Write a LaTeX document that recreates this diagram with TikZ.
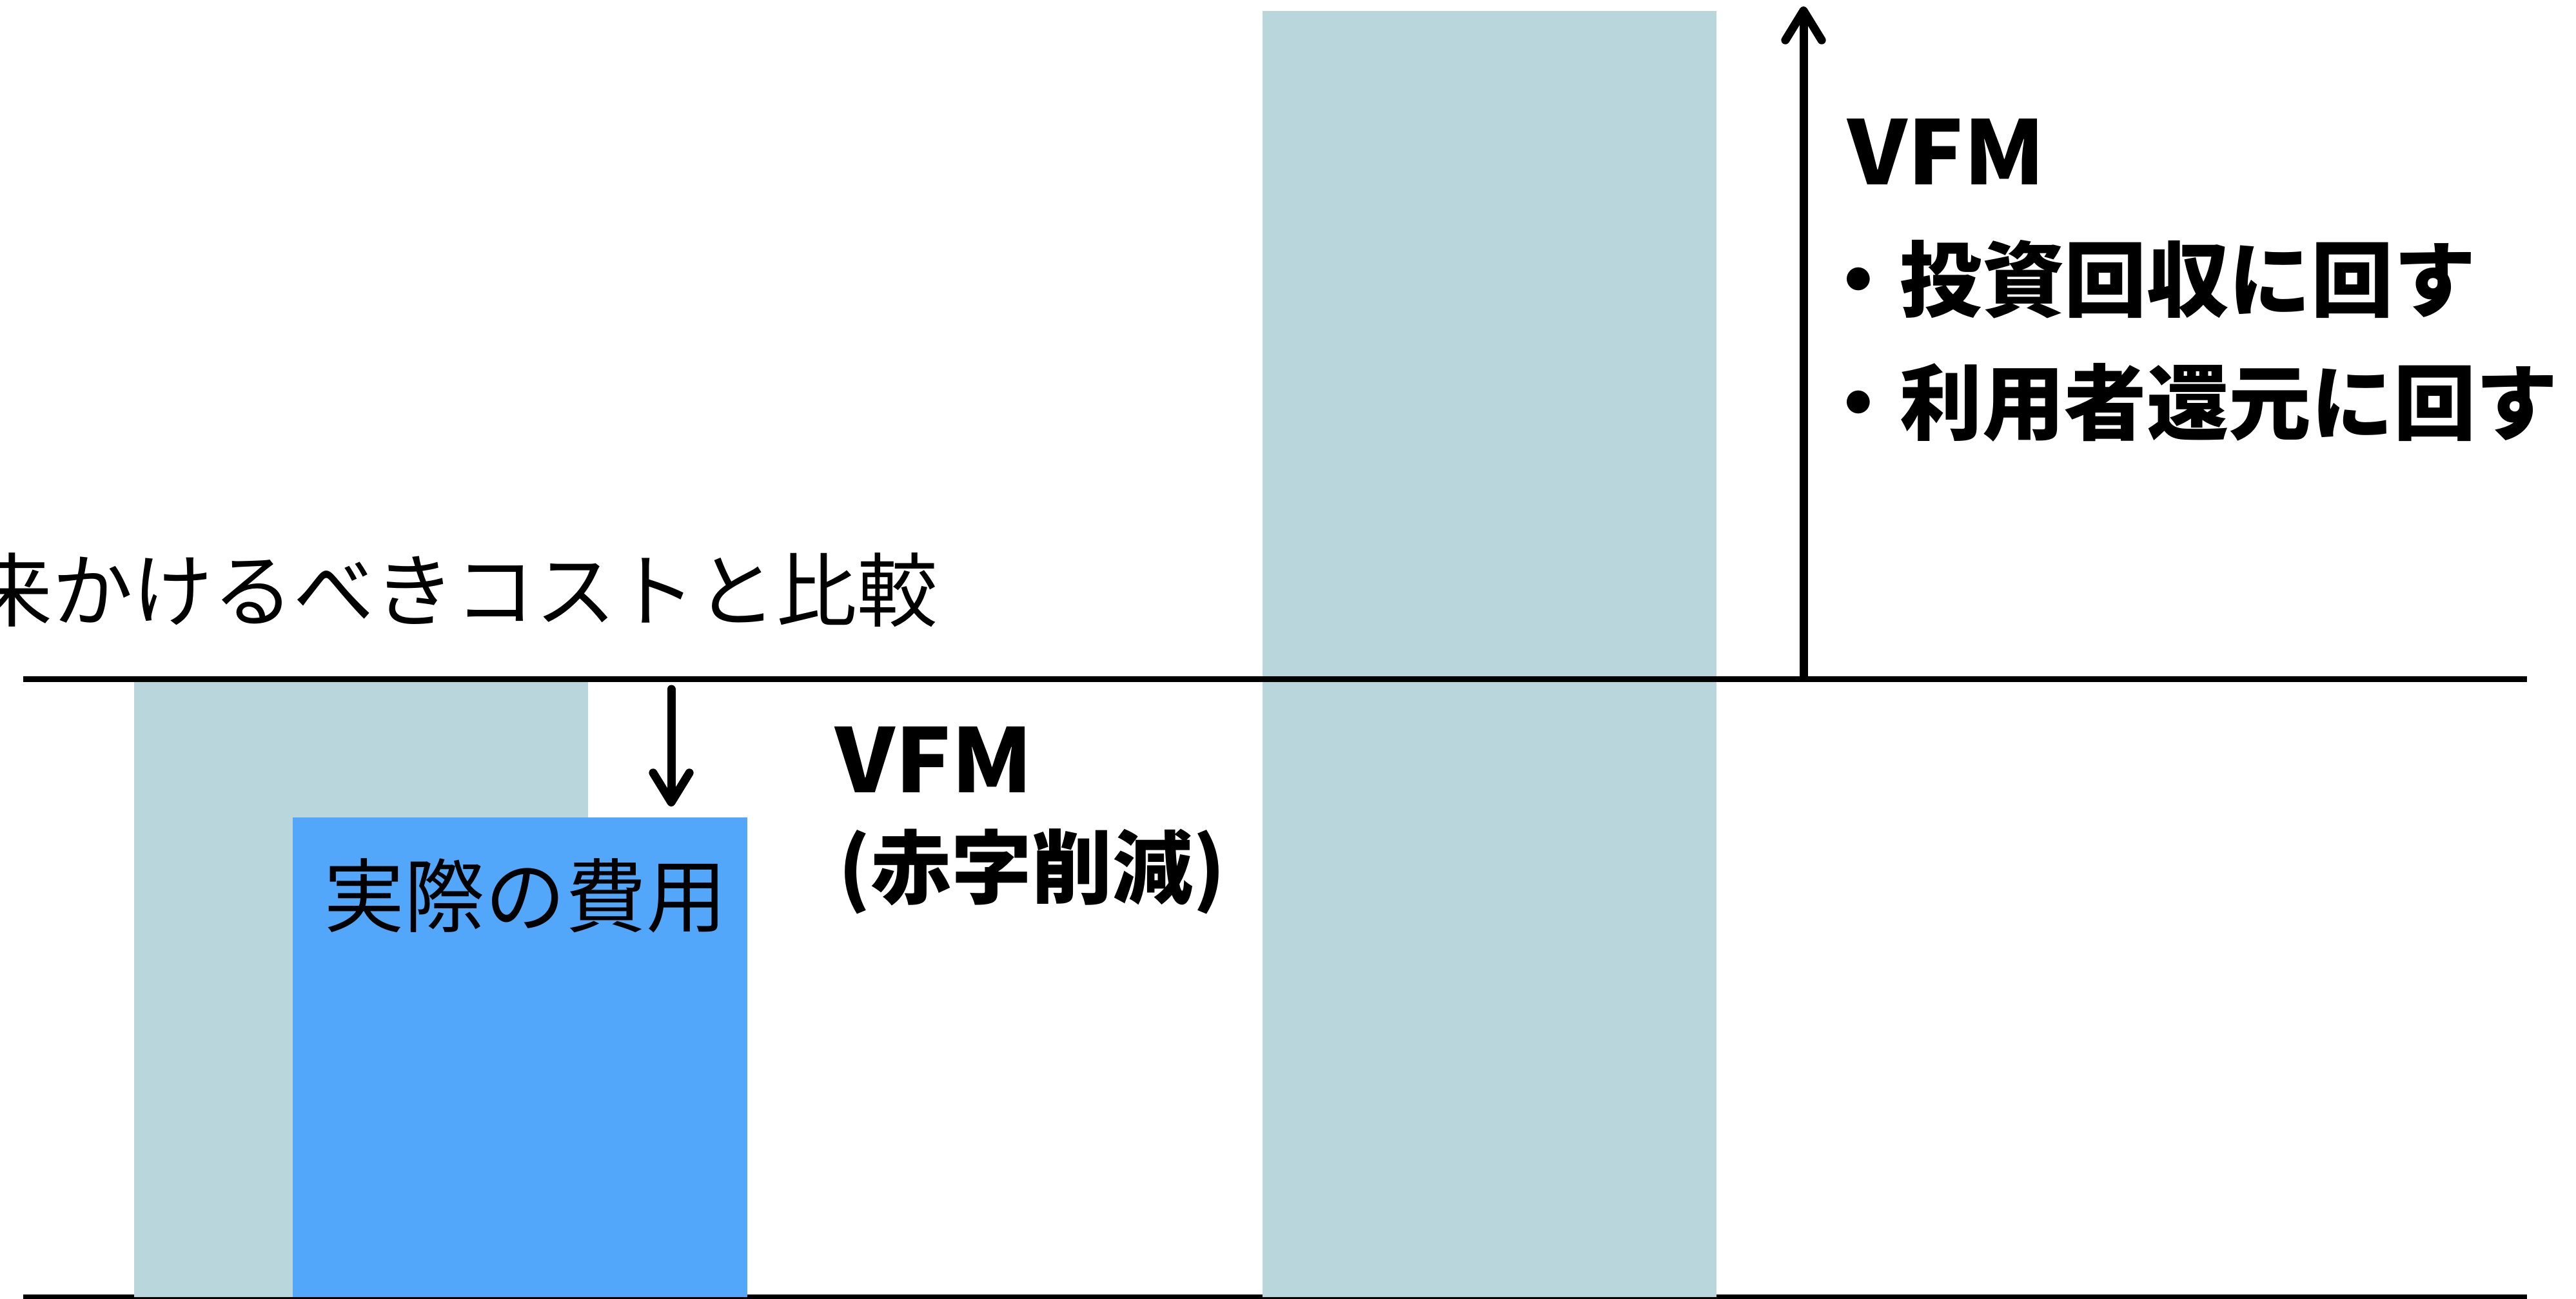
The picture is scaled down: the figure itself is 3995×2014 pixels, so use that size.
\documentclass[tikz,border=0pt]{standalone}
\usepackage{fontspec}
\usetikzlibrary{arrows.meta}
\newfontfamily\jp{Noto Sans CJK JP}
\newfontfamily\jpwide{Noto Sans CJK JP}[FakeStretch=1.05]
\definecolor{barlight}{HTML}{B9D6DD}
\definecolor{barblue}{HTML}{53A7FA}
\tikzset{
  hline/.style={line width=2.56pt, draw=black},
  vfmarrow/.style={line width=3.7pt, line cap=round, line join=round,
    -{Straight Barb[length=13pt,width=16pt,line cap=round,line join=round]}},
  thinlabel/.style={inner sep=0pt, font=\jp\fontsize{35.5}{40}\selectfont},
  boldlabel/.style={inner sep=0pt, font=\jp\bfseries\fontsize{35.5}{40}\selectfont},
  listlabel/.style={inner sep=0pt, font=\jp\bfseries\fontsize{36.3}{40}\selectfont},
  vfmlabel/.style={inner sep=0pt, font=\jpwide\bfseries\fontsize{39}{44}\selectfont},
}
\begin{document}
\begin{tikzpicture}[x=0.01cm,y=-0.01cm]
\useasboundingbox (0,0) rectangle (3995,2014);
% bottom line (under bars)
\draw[hline] (36,2012) -- (3919,2012);
% bars
\fill[barlight] (208,1053) rectangle (912,2012);
\fill[barlight] (1958,17) rectangle (2662,2012);
\fill[barblue] (454,1268) rectangle (1159,2012);
% top line (over bars)
\draw[hline] (36,1053) -- (3919,1053);
% arrows
\coordinate (dnS) at (1041,1069);
\coordinate (dnE) at (1041,1251);
\coordinate (upS) at (2797,1049);
\coordinate (upE) at (2797,10);
\draw[vfmarrow] (dnS) -- (dnE);
\draw[vfmarrow] (upS) -- (upE);
% texts
\node[thinlabel, anchor=east] (cmp) at (1455,915) {本来かけるべきコストと比較};
\node[thinlabel] (actual) at (815,1389) {実際の費用};
\node[vfmlabel, anchor=west] (vfmA) at (1295,1178) {VFM};
\node[boldlabel, anchor=west] (vfmAsub) at (1300,1352) {(赤字削減)};
\node[vfmlabel, anchor=west] (vfmB) at (2865,235) {VFM};
\node[listlabel, anchor=west] (itemA) at (2818,433) {・投資回収に回す};
\node[listlabel, anchor=west] (itemB) at (2818,624) {・利用者還元に回す};
\end{tikzpicture}
\end{document}
